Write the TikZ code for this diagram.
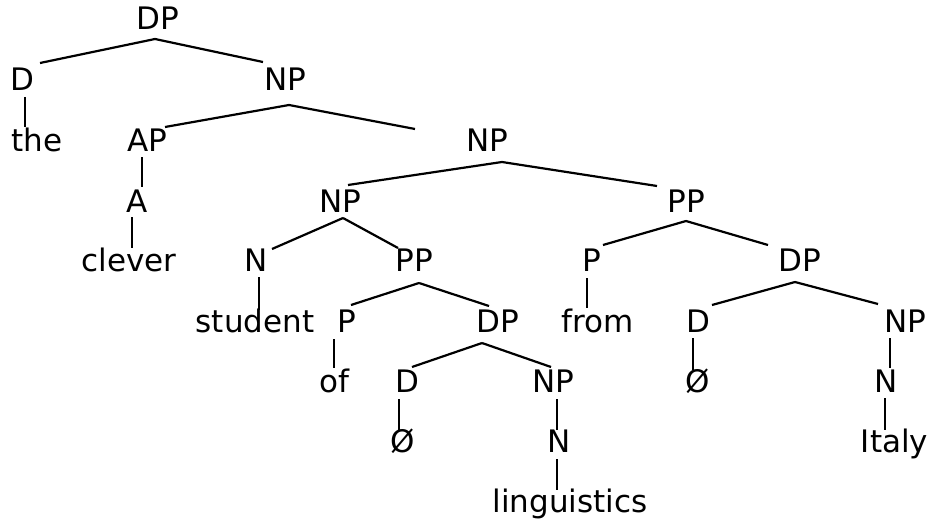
\documentclass[tikz,border=0pt]{standalone}
\usepackage{fontspec}
\setmainfont{DejaVu Sans}
\begin{document}
\begin{tikzpicture}[x=1pt,y=-1pt,
    lbl/.style={anchor=base,inner sep=0pt,font=\fontsize{31}{37}\selectfont},
    br/.style={line width=2.2pt}]
    \useasboundingbox (0,0) rectangle (933,524);
% labels, one row after the other
    \node[lbl] (dp)    at (158,30)  {DP};
    \node[lbl] (d)     at (22.5,91) {D};
    \node[lbl] (np)    at (285,91)  {NP};
    \node[lbl] (the)   at (37,151)  {the};
    \node[lbl] (ap)    at (147,151) {AP};
    \node[lbl] (npa)   at (487.5,151) {NP};
    \node[lbl] (a)     at (137.5,212) {A};
    \node[lbl] (npb)   at (340,212) {NP};
    \node[lbl] (ppa)   at (686.5,212) {PP};
    \node[lbl] (clever) at (129,271) {clever};
    \node[lbl] (n)     at (256,271) {N};
    \node[lbl] (ppb)   at (414.5,271) {PP};
    \node[lbl] (pa)    at (592,271) {P};
    \node[lbl] (dpa)   at (800,271) {DP};
    \node[lbl] (student) at (255,332) {student};
    \node[lbl] (pb)    at (347,332) {P};
    \node[lbl] (dpb)   at (497.5,332) {DP};
    \node[lbl] (from)  at (597.5,332) {from};
    \node[lbl] (da)    at (698,332) {D};
    \node[lbl] (npc)   at (905,332) {NP};
    \node[lbl] (of)    at (334,392) {of};
    \node[lbl] (db)    at (407,392) {D};
    \node[lbl] (npd)   at (553,392) {NP};
    \node[lbl] (nulla) at (698,392) {Ø};
    \node[lbl] (na)    at (886,392) {N};
    \node[lbl] (nullb) at (402.5,452) {Ø};
    \node[lbl] (nb)    at (559,452) {N};
    \node[lbl] (italy) at (894.5,452) {Italy};
    \node[lbl] (ling)  at (570,512) {linguistics};
% branch ends
    \foreach \n/\x/\y in {dp-b/155/39, d-t/40/63, np-t/263/62,
        d-b/25/97, the-t/25/127, np-b/289/105, ap-t/165/127, npa-t/415/129,
        ap-b/142/157, a-t/142/187, a-b/132/217, clever-t/132/248,
        npa-b/502/162, npb-t/348/185, ppa-t/657/186,
        npb-b/343/218, n-t/272/249, ppb-t/398/248,
        ppa-b/686/221, pa-t/603/245, dpa-t/768/245,
        n-b/259/277, student-t/259/310,
        ppb-b/419/283, pb-t/351/305, dpb-t/489/306,
        pa-b/587/278, from-t/587/308,
        dpa-b/795/282, da-t/712/305, npc-t/878/304,
        pb-b/334/339, of-t/334/368,
        dpb-b/482/343, db-t/412/367, npd-t/551/367,
        da-b/693/338, nulla-t/693/370,
        npc-b/890/338, na-t/890/368,
        db-b/399/399, nullb-t/399/430,
        npd-b/557/399, nb-t/557/430,
        na-b/885/398, italy-t/885/430,
        nb-b/557/459, ling-t/557/490}
    {
        \coordinate (\n) at (\x,\y);
    }
    \foreach \p/\c in {dp-b/d-t, dp-b/np-t, d-b/the-t, np-b/ap-t, np-b/npa-t,
        ap-b/a-t, a-b/clever-t, npa-b/npb-t, npa-b/ppa-t, npb-b/n-t, npb-b/ppb-t,
        ppa-b/pa-t, ppa-b/dpa-t, n-b/student-t, ppb-b/pb-t, ppb-b/dpb-t,
        pa-b/from-t, dpa-b/da-t, dpa-b/npc-t, pb-b/of-t, dpb-b/db-t, dpb-b/npd-t,
        da-b/nulla-t, npc-b/na-t, db-b/nullb-t, npd-b/nb-t, na-b/italy-t, nb-b/ling-t}
    {
        \draw[br] (\p) -- (\c);
    }
\end{tikzpicture}
\end{document}
